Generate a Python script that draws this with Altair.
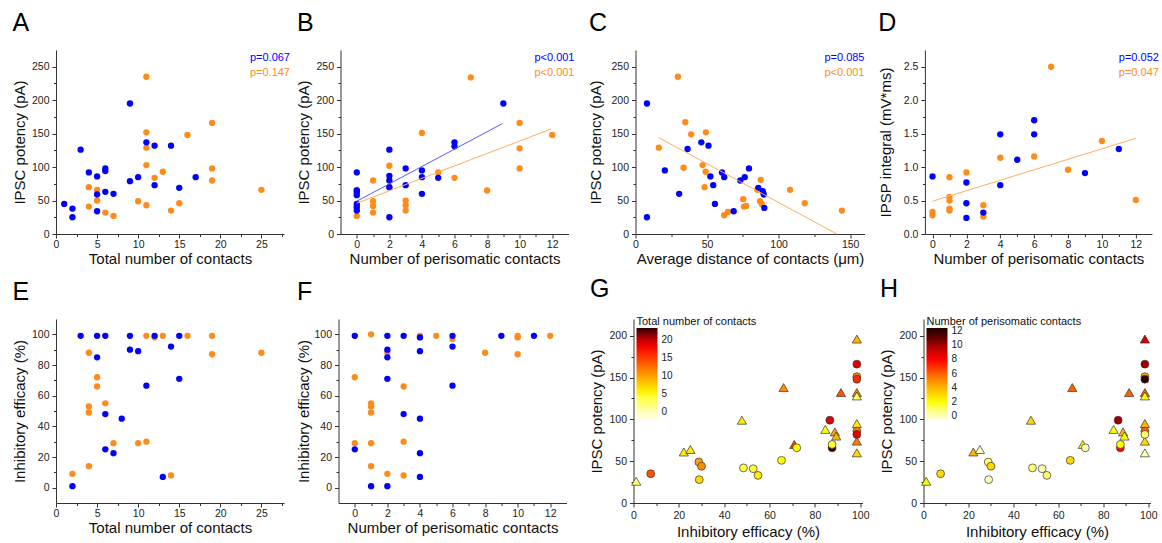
import altair as alt
import pandas as pd

FONT = "Liberation Sans"
BLUE = "#0000ff"
ORANGE = "#ff8c1a"
BLUE_LINE = "#5a5aff"
ORANGE_LINE = "#ffad5e"

# ---------------- data ----------------
# A: total contacts vs IPSC potency
A_BLUE_X = [1, 2, 2, 3, 4, 5, 5, 5, 6, 6, 6, 7, 9, 9, 10, 11, 12, 12, 14, 15, 17]
A_BLUE_Y = [45, 38, 25, 126, 92, 86, 59, 34, 98, 94, 63, 60, 195, 79, 85, 137, 132, 73, 132, 69, 85]
A_ORANGE_X = [4, 4, 5, 5, 6, 7, 10, 11, 11, 11, 11, 11, 12, 13, 14, 15, 16, 19, 19, 19, 25]
A_ORANGE_Y = [70, 41, 66, 50, 32, 27, 49, 235, 152, 129, 103, 43, 84, 93, 35, 46, 148, 166, 98, 80, 66]
A_P = ["p=0.067", "p=0.147"]

# B: perisomatic contacts vs IPSC potency
B_BLUE_X = [0, 0, 0, 0, 0, 0, 0, 2, 2, 2, 2, 2, 3, 3, 4, 4, 4, 5, 6, 6, 9]
B_BLUE_Y = [92, 65, 62, 58, 45, 40, 35, 126, 87, 80, 70, 25, 98, 73, 95, 85, 60, 84, 137, 131, 195]
B_ORANGE_X = [0, 0, 0, 1, 1, 1, 1, 2, 2, 3, 3, 3, 4, 5, 6, 7, 8, 10, 10, 10, 12]
B_ORANGE_Y = [66, 41, 27, 80, 49, 42, 32, 102, 70, 50, 43, 35, 151, 92, 84, 234, 65, 166, 128, 98, 148]
B_FIT_BLUE_X = [0, 8.94]
B_FIT_BLUE_Y = [49, 165]
B_FIT_ORANGE_X = [0, 11.94]
B_FIT_ORANGE_Y = [46, 157]
B_P = ["p<0.001", "p<0.001"]

# C: average distance vs IPSC potency
C_BLUE_X = [8, 8, 20.5, 30.5, 36.4, 46, 51, 52.3, 54.3, 55.5, 60.4, 62, 68.6, 73.2, 76.3, 79.3, 85.8, 88.9, 89.6, 90]
C_BLUE_Y = [195, 25, 95, 60, 127, 137, 132, 86, 73, 45, 92, 85, 34, 80, 85, 98, 69, 64, 59, 39]
C_ORANGE_X = [29.6, 16.3, 34.8, 38.9, 49.2, 33.6, 46.9, 49, 48.3, 62, 64.6, 75.3, 75.8, 77.4, 85.1, 87.5, 87, 88.2, 108, 118.3, 144.2]
C_ORANGE_Y = [235, 129, 167, 149, 152, 99, 103, 93, 70, 28, 33, 52, 41, 42, 66, 81, 49, 45, 66, 46, 35]
C_FIT_ORANGE_X = [16.3, 140.7]
C_FIT_ORANGE_Y = [144, 0]
C_P = ["p=0.085", "p<0.001"]

# D: perisomatic contacts vs IPSP integral
D_BLUE_X = [0, 2, 2, 2, 3, 4, 4, 5, 6, 6, 9, 11]
D_BLUE_Y = [0.86, 0.77, 0.46, 0.24, 0.32, 1.49, 0.73, 1.11, 1.70, 1.49, 0.91, 1.27]
D_ORANGE_X = [0, 0, 1, 1, 1, 1, 1, 2, 3, 3, 4, 6, 7, 8, 10, 12]
D_ORANGE_Y = [0.33, 0.28, 0.85, 0.55, 0.50, 0.38, 0.35, 0.92, 0.43, 0.26, 1.14, 1.16, 2.50, 0.96, 1.39, 0.51]
D_FIT_ORANGE_X = [0, 12]
D_FIT_ORANGE_Y = [0.49, 1.43]
D_P = ["p=0.052", "p=0.047"]

# E: total contacts vs inhibitory efficacy
E_BLUE_X = [2, 3, 5, 5, 6, 6, 6, 7, 8, 9, 9, 10, 11, 12, 13, 14, 15, 15]
E_BLUE_Y = [1, 99, 99, 85, 99, 48, 25, 22.5, 45, 99, 90, 89, 66.5, 99, 7, 92, 99, 71]
E_ORANGE_X = [2, 4, 4, 4, 4, 5, 5, 6, 7, 10, 11, 11, 12, 13, 14, 16, 19, 19, 25]
E_ORANGE_Y = [9, 88, 53, 49, 14, 72, 66, 55, 29, 29, 99, 30, 98, 99, 8, 99, 99, 87, 88]

# F: perisomatic contacts vs inhibitory efficacy
F_BLUE_X = [0, 0, 1, 2, 2, 2, 2, 2, 3, 3, 4, 4, 4, 4, 4, 6, 6, 6, 9, 11]
F_BLUE_Y = [99, 25, 1, 99, 90, 85, 71, 1, 99, 48, 98, 89, 45, 22.5, 7, 99, 92, 66.5, 99, 99]
F_ORANGE_X = [0, 0, 1, 1, 1, 1, 1, 1, 2, 2, 3, 3, 3, 4, 5, 6, 8, 10, 10, 10, 12]
F_ORANGE_Y = [72, 29, 100, 55, 53, 49, 29, 14, 88, 9, 66, 30, 8, 99, 99, 97, 88, 99, 98, 87, 99]

# G / H: inhibitory efficacy vs IPSC potency, coloured by contacts
GH_TRI_X = [1.2, 22.2, 25.1, 47.8, 66.2, 70.9, 84.6, 88.8, 89.4, 91.5, 98.5, 98.5, 98.5, 98.5, 98.5, 98.5]
GH_TRI_Y = [26, 61, 64, 99, 138, 70, 88, 85, 80, 132, 196, 132, 128, 95, 74, 60]
G_TRI_TOTAL = [2, 6, 6, 6, 11, 15, 5, 10, 9, 14, 9, 12, 3, 6, 12, 7]
H_TRI_PERI = [2, 4, 0, 3, 6, 2, 2, 4, 2, 6, 9, 6, 2, 4, 3, 0]
GH_CIR_X = [7.6, 28.8, 30, 29, 48.5, 52.8, 54.9, 65.3, 72, 86.6, 87.6, 87.6, 98.5, 98.5, 98.5, 98.5, 98.5]
GH_CIR_Y = [35, 49, 44, 28, 42, 41, 33, 51, 66, 99, 66, 70, 166, 151, 148, 86, 82]
G_CIR_TOTAL = [14, 10, 11, 7, 4, 4, 6, 5, 5, 19, 25, 4, 19, 11, 16, 12, 19]
H_CIR_PERI = [3, 1, 3, 0, 1, 0, 1, 3, 0, 10, 8, 2, 10, 4, 12, 6, 1]

G_CDOMAIN = [-2.3, 0, 2.5, 5, 7.5, 10, 12.5, 15, 17.5, 20, 22, 23.4]
G_CRANGE = ["#ffffe6", "#ffffb8", "#ffff66", "#ffff00", "#ffd000", "#ffa000", "#ff7000",
            "#ff3800", "#ff0800", "#c80000", "#700000", "#2d0000"]
G_LEGEND_VALUES = [0, 5, 10, 15, 20]
H_CDOMAIN = [-0.57, 0, 1, 2, 3, 4, 5, 6, 7, 8, 9, 10, 11, 12, 12.43]
H_CRANGE = ["#ffffe0", "#ffffb8", "#ffff70", "#ffff00", "#ffd800", "#ffb400", "#ff8c00",
            "#ff6000", "#ff2c00", "#ff0000", "#d40000", "#a00000", "#640000", "#300000", "#280000"]
H_LEGEND_VALUES = [0, 2, 4, 6, 8, 10, 12]

# tick positions (major + minor)
TICKS_TOTAL = [0, 2.5, 5, 7.5, 10, 12.5, 15, 17.5, 20, 22.5, 25, 27.5]
TICKS_PERI = [0, 1, 2, 3, 4, 5, 6, 7, 8, 9, 10, 11, 12]
TICKS_IPSC = [0, 25, 50, 75, 100, 125, 150, 175, 200, 225, 250]
TICKS_DIST = [0, 25, 50, 75, 100, 125, 150]
TICKS_IPSP = [0, 0.25, 0.5, 0.75, 1.0, 1.25, 1.5, 1.75, 2.0, 2.25, 2.5]
TICKS_EFF = [0, 10, 20, 30, 40, 50, 60, 70, 80, 90, 100]
TICKS_IPSC_G = [0, 25, 50, 75, 100, 125, 150, 175, 200]

H_PLOT = 184


def axis(title, values, step, fmt=None, title_pad=4, label_pad=3):
    test = f"abs(datum.value/{step} - round(datum.value/{step})) < 0.000001"
    kw = dict(
        title=title,
        values=values,
        labelExpr=f"({test}) ? datum.label : ''",
        tickSize={"condition": {"test": test, "value": 4}, "value": 2.5},
        labelOverlap=False,
        labelFlush=False,
        grid=False,
        titlePadding=title_pad,
        labelPadding=label_pad,
    )
    if fmt:
        kw["format"] = fmt
    return alt.Axis(**kw)


def df(xs, ys):
    return pd.DataFrame({"x": xs, "y": ys})


def scatter_panel(letter, blue, orange, xdom, ydom, xaxis, yaxis, width,
                  fits=(), pvals=(), p_dx=0):
    X = alt.X("x:Q", scale=alt.Scale(domain=xdom, nice=False, zero=False), axis=xaxis)
    Y = alt.Y("y:Q", scale=alt.Scale(domain=ydom, nice=False, zero=False), axis=yaxis)
    layers = [
        alt.Chart(df(*orange)).mark_circle(size=40, color=ORANGE, opacity=1).encode(x=X, y=Y),
        alt.Chart(df(*blue)).mark_circle(size=40, color=BLUE, opacity=1).encode(x=X, y=Y),
    ]
    for fx, fy, col in fits:
        layers.append(alt.Chart(df(fx, fy)).mark_line(color=col, strokeWidth=1).encode(x=X, y=Y))
    for i, (txt, col) in enumerate(zip(pvals, [BLUE, ORANGE])):
        layers.append(
            alt.Chart(pd.DataFrame({"t": [txt]}))
            .mark_text(align="right", baseline="alphabetic", fontSize=11, font=FONT, color=col)
            .encode(text="t:N", x=alt.value(width + p_dx), y=alt.value(11 + 15 * i))
        )
    return alt.layer(*layers).properties(width=width, height=H_PLOT, title=letter)


def color_panel(letter, tri_c, cir_c, cdom, crange, ltitle, lvalues, width):
    X = alt.X("x:Q", scale=alt.Scale(domain=[0, 101], nice=False, zero=False),
              axis=axis("Inhibitory efficacy (%)", TICKS_EFF, 20))
    Y = alt.Y("y:Q", scale=alt.Scale(domain=[0, 220], nice=False, zero=False),
              axis=axis("IPSC potency (pA)", TICKS_IPSC_G, 50))
    F = alt.Fill(
        "c:Q",
        scale=alt.Scale(domain=cdom, range=crange, clamp=True),
        legend=alt.Legend(
            orient="none", legendX=3, legendY=-3, direction="vertical",
            title=ltitle, titleFontSize=11, titleFont=FONT, titleFontWeight="normal",
            titleColor="#111", titlePadding=1, titleLimit=300, titleAnchor="start",
            gradientLength=92, gradientThickness=21, gradientStrokeWidth=0,
            values=lvalues, labelFontSize=10, labelFont=FONT, labelColor="#222",
            labelOffset=4, labelOverlap=False, padding=0,
        ),
    )
    tri = alt.Chart(pd.DataFrame({"x": GH_TRI_X, "y": GH_TRI_Y, "c": tri_c})).mark_point(
        shape="triangle-up", filled=True, size=85, stroke="#333", strokeWidth=0.7, opacity=1
    ).encode(x=X, y=Y, fill=F)
    cir = alt.Chart(pd.DataFrame({"x": GH_CIR_X, "y": GH_CIR_Y, "c": cir_c})).mark_point(
        shape="circle", filled=True, size=62, stroke="#333", strokeWidth=0.7, opacity=1
    ).encode(x=X, y=Y, fill=F)
    return alt.layer(tri, cir).properties(width=width, height=H_PLOT, title=letter)


XT = dict(title_pad=2, label_pad=1)

pA = scatter_panel("A", (A_BLUE_X, A_BLUE_Y), (A_ORANGE_X, A_ORANGE_Y), [0, 27.75], [0, 275],
                   axis("Total number of contacts", TICKS_TOTAL, 5, **XT),
                   axis("IPSC potency (pA)", TICKS_IPSC, 50), 228, pvals=A_P, p_dx=6)
pB = scatter_panel("B", (B_BLUE_X, B_BLUE_Y), (B_ORANGE_X, B_ORANGE_Y), [-1, 13], [0, 275],
                   axis("Number of perisomatic contacts", TICKS_PERI, 2, **XT),
                   axis("IPSC potency (pA)", TICKS_IPSC, 50), 228,
                   fits=[(B_FIT_BLUE_X, B_FIT_BLUE_Y, BLUE_LINE), (B_FIT_ORANGE_X, B_FIT_ORANGE_Y, ORANGE_LINE)],
                   pvals=B_P, p_dx=6)
pC = scatter_panel("C", (C_BLUE_X, C_BLUE_Y), (C_ORANGE_X, C_ORANGE_Y), [0, 160], [0, 275],
                   axis("Average distance of contacts (\u03bcm)", TICKS_DIST, 50, **XT),
                   axis("IPSC potency (pA)", TICKS_IPSC, 50, title_pad=7), 229,
                   fits=[(C_FIT_ORANGE_X, C_FIT_ORANGE_Y, ORANGE_LINE)], pvals=C_P, p_dx=0)
pD = scatter_panel("D", (D_BLUE_X, D_BLUE_Y), (D_ORANGE_X, D_ORANGE_Y), [-0.45, 12.95], [0, 2.75],
                   axis("Number of perisomatic contacts", TICKS_PERI, 2, **XT),
                   axis("IPSP integral (mV*ms)", TICKS_IPSP, 0.5, fmt=".1f", title_pad=10), 227,
                   fits=[(D_FIT_ORANGE_X, D_FIT_ORANGE_Y, ORANGE_LINE)], pvals=D_P, p_dx=7)
pE = scatter_panel("E", (E_BLUE_X, E_BLUE_Y), (E_ORANGE_X, E_ORANGE_Y), [0, 27.75], [-10, 110],
                   axis("Total number of contacts", TICKS_TOTAL, 5, **XT),
                   axis("Inhibitory efficacy (%)", TICKS_EFF, 20), 228)
pF = scatter_panel("F", (F_BLUE_X, F_BLUE_Y), (F_ORANGE_X, F_ORANGE_Y), [-1, 13], [-10, 110],
                   axis("Number of perisomatic contacts", TICKS_PERI, 2, **XT),
                   axis("Inhibitory efficacy (%)", TICKS_EFF, 20, title_pad=2), 228)
pG = color_panel("G", G_TRI_TOTAL, G_CIR_TOTAL, G_CDOMAIN, G_CRANGE,
                 "Total number of contacts", G_LEGEND_VALUES, 229)
pH = color_panel("H", H_TRI_PERI, H_CIR_PERI, H_CDOMAIN, H_CRANGE,
                 "Number of perisomatic contacts", H_LEGEND_VALUES, 227)


def indep(c):
    return c.resolve_scale(fill="independent").resolve_legend(fill="independent")


row1 = indep(alt.hconcat(alt.hconcat(pA, pB, spacing=6.5), alt.hconcat(pC, pD, spacing=13.4), spacing=13.5))
row2 = indep(alt.hconcat(alt.hconcat(pE, pF, spacing=12.5), indep(alt.hconcat(pG, pH, spacing=10)), spacing=22.5))

chart = (
    indep(alt.vconcat(row1, row2, spacing=10))
    .properties(padding={"left": 12, "top": 11, "right": 0, "bottom": 0})
    .configure_view(strokeWidth=0)
    .configure_axis(
        labelFont=FONT, titleFont=FONT, labelFontSize=10.5, titleFontSize=15,
        titleFontWeight="normal", domainColor="#333", tickColor="#333",
        labelColor="#222", titleColor="#111", domainWidth=1, tickWidth=1,
    )
    .configure_title(font=FONT, fontSize=25, fontWeight="normal", anchor="start",
                     offset=14, baseline="alphabetic", color="#000")
    .configure_legend(labelFont=FONT, titleFont=FONT)
)

chart.save("out.html", embed_options={"renderer": "svg", "actions": False})
